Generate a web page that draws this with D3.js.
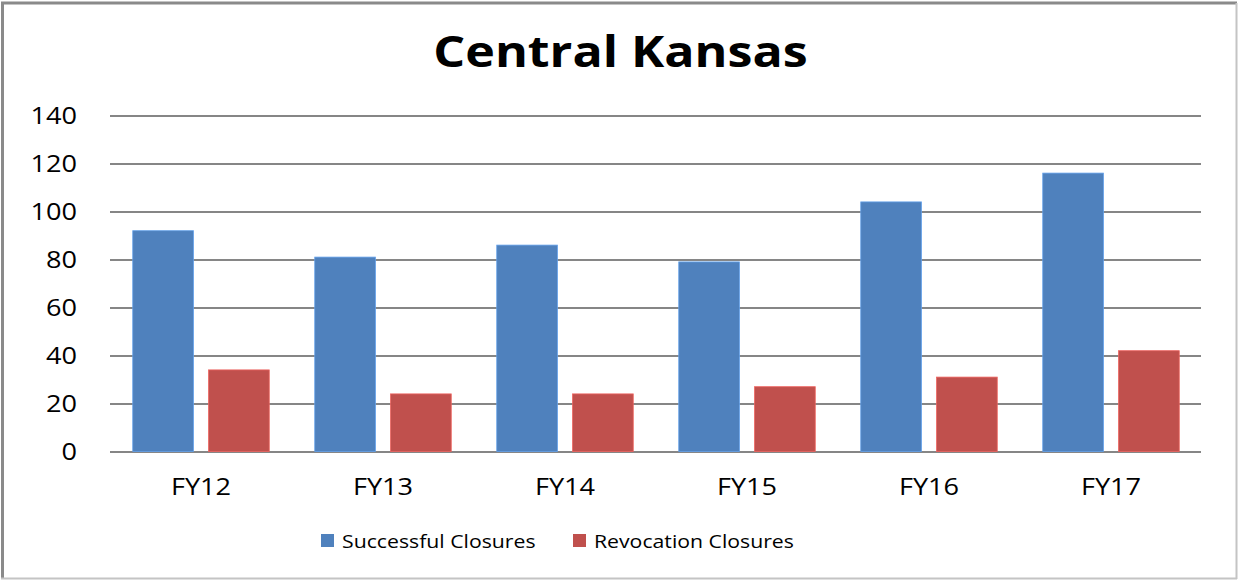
<!DOCTYPE html>
<html>
<head>
<meta charset="utf-8">
<script src="https://cdn.jsdelivr.net/npm/d3@7"></script>
<style>
  html, body { margin: 0; padding: 0; background: #fff; }
  svg { display: block; font-family: "Open Sans", "Noto Sans", sans-serif; }
</style>
</head>
<body>
<svg width="1238" height="580"></svg>
<script>
var categories = ["FY12", "FY13", "FY14", "FY15", "FY16", "FY17"];
var successful = [92, 81, 86, 79, 104, 116];
var revocation = [34, 24, 24, 27, 31, 42];
var seriesNames = ["Successful Closures", "Revocation Closures"];
var seriesColors = ["#4f81bd", "#c0504d"];
var yTicks = [0, 20, 40, 60, 80, 100, 120, 140];
var title = "Central Kansas";

var svg = d3.select("svg"),
    W = +svg.attr("width"),
    H = +svg.attr("height");

// plot box
var plotLeft = 110, plotRight = 1202, plotTop = 115.5, plotBottom = 451.5;
var stretch = 1.18; // source image text looks widened

var x0 = d3.scaleBand().domain(categories).range([plotLeft, plotRight]).paddingInner(0).paddingOuter(0);
var x1 = d3.scaleBand().domain([0, 1]).range([0, x0.bandwidth()]).paddingInner(0.2).paddingOuter(0.3);
var y = d3.scaleLinear().domain([0, 140]).range([plotBottom, plotTop]);

function label(g, txt, x, yy, anchor, size, weight) {
    return g.append("text")
        .attr("transform", "translate(" + x + "," + yy + ") scale(" + stretch + ",1)")
        .attr("text-anchor", anchor)
        .attr("font-size", size)
        .attr("font-weight", weight || "normal")
        .attr("fill", "#000")
        .text(txt);
}

// frame
svg.append("rect").attr("x", 0).attr("y", 0).attr("width", W).attr("height", H).attr("fill", "#fff");
svg.append("line").attr("x1", 2.5).attr("x2", 2.5).attr("y1", 2).attr("y2", 578).attr("stroke", "#8a8a8a").attr("stroke-width", 3);
svg.append("line").attr("x1", 1).attr("x2", 1237).attr("y1", 3).attr("y2", 3).attr("stroke", "#8a8a8a").attr("stroke-width", 3);
svg.append("line").attr("x1", 1236.5).attr("x2", 1236.5).attr("y1", 3).attr("y2", 579).attr("stroke", "#c4c4c4").attr("stroke-width", 2);
svg.append("line").attr("x1", 1).attr("x2", 1237).attr("y1", 578.5).attr("y2", 578.5).attr("stroke", "#c4c4c4").attr("stroke-width", 2);

// gridlines
var grid = svg.append("g")
    .attr("transform", "translate(" + plotLeft + ",0)")
    .call(d3.axisLeft(y).tickValues(yTicks).tickSize(-(plotRight - plotLeft - 1)).tickFormat(""));
grid.select(".domain").remove();
grid.selectAll(".tick line").attr("stroke", "#868686").attr("stroke-width", 2);

// y labels
var yl = svg.append("g");
yTicks.forEach(function(t) {
    label(yl, t, 77, y(t) + 8, "end", 23);
});

// bars
var bars = svg.append("g");
categories.forEach(function(c, i) {
    [successful[i], revocation[i]].forEach(function(v, s) {
        bars.append("rect")
            .attr("x", x0(c) + x1(s))
            .attr("y", y(v))
            .attr("width", x1.bandwidth())
            .attr("height", y(0) - y(v))
            .attr("fill", seriesColors[s])
            .attr("stroke", d3.color(seriesColors[s]).brighter(0.6))
            .attr("stroke-width", 0.8);
    });
});

// category labels
var xl = svg.append("g");
categories.forEach(function(c) {
    label(xl, c, x0(c) + x0.bandwidth() / 2, 495, "middle", 23);
});

// title
label(svg, title, 620.5, 67, "middle", 42.5, "bold");

// legend
var legendX = [321, 573];
var lg = svg.append("g");
seriesNames.forEach(function(n, s) {
    lg.append("rect")
        .attr("x", legendX[s]).attr("y", 534)
        .attr("width", 13).attr("height", 13)
        .attr("fill", seriesColors[s]);
    label(lg, n, legendX[s] + 21, 548, "start", 18);
});
</script>
</body>
</html>
